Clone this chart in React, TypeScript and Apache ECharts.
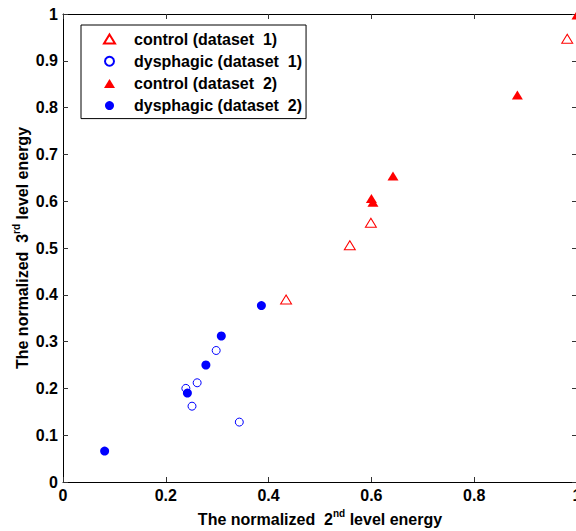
import React, { useEffect, useRef } from "react";
import * as echarts from "echarts";

const seriesNames = [
  "control (dataset\u00a0 1)",
  "dysphagic (dataset\u00a0 1)",
  "control (dataset\u00a0 2)",
  "dysphagic (dataset\u00a0 2)",
];

const control1X = [0.434, 0.558, 0.599, 0.981];
const control1Y = [0.39, 0.506, 0.554, 0.947];
const dysphagic1X = [0.239, 0.261, 0.251, 0.298, 0.343];
const dysphagic1Y = [0.2, 0.212, 0.162, 0.281, 0.128];
const control2X = [0.6, 0.603, 0.642, 0.884, 1.0];
const control2Y = [0.606, 0.598, 0.654, 0.827, 0.998];
const dysphagic2X = [0.081, 0.242, 0.278, 0.308, 0.386];
const dysphagic2Y = [0.066, 0.19, 0.25, 0.312, 0.377];

const xTitle = "The normalized\u00a0 2{sup|nd} level energy";
const yTitle = "The normalized\u00a0 3{sup|rd} level energy";

const FONT = "'Liberation Sans', Arial, Helvetica, sans-serif";

function pairs(xs: number[], ys: number[]) {
  return xs.map((x, i) => [x, ys[i]]);
}

export default function App() {
  const ref = useRef<HTMLDivElement>(null);
  useEffect(() => {
    if (!ref.current) return;
    const chart = echarts.init(ref.current, undefined, { renderer: "svg" });
    const titleStyle = {
      color: "#000",
      fontSize: 16,
      fontWeight: "bold",
      fontFamily: FONT,
      lineHeight: 22,
      rich: {
        sup: {
          fontSize: 10,
          fontWeight: "bold",
          fontFamily: FONT,
          color: "#000",
          verticalAlign: "top",
          lineHeight: 10,
        },
      },
    };
    const labelStyle = {
      color: "#000",
      fontSize: 16,
      fontWeight: "bold",
      fontFamily: FONT,
    };
    const axisLine = { show: true, onZero: false, lineStyle: { color: "#000", width: 1 } };
    const axisTick = { show: true, inside: true, length: 5, lineStyle: { color: "#333", width: 1 } };
    const option: any = {
      animation: false,
      backgroundColor: "#fff",
      grid: { left: 63, top: 14, right: -1, bottom: 49, outerBoundsMode: "none", containLabel: false },
      legend: {
        data: seriesNames,
        orient: "vertical",
        left: 81,
        top: 25,
        padding: [6, 4, 5, 22],
        itemWidth: 11,
        itemHeight: 9,
        itemGap: 6.2,
        backgroundColor: "#fff",
        borderColor: "#000",
        borderWidth: 1,
        borderRadius: 0,
        selectedMode: false,
        textStyle: {
          color: "#000",
          fontSize: 16,
          fontWeight: "bold",
          fontFamily: FONT,
          lineHeight: 16,
          padding: [0, 0, 0, 14],
        },
      },
      xAxis: [
        {
          type: "value",
          position: "bottom",
          min: 0,
          max: 1,
          interval: 0.2,
          axisLine,
          axisTick,
          splitLine: { show: false },
          axisLabel: { ...labelStyle, margin: 5 },
          name: xTitle,
          nameLocation: "middle",
          nameGap: 26,
          nameTextStyle: titleStyle,
        },
        {
          type: "value",
          position: "top",
          min: 0,
          max: 1,
          interval: 0.2,
          axisLine,
          axisTick,
          splitLine: { show: false },
          axisLabel: { show: false },
        },
      ],
      yAxis: [
        {
          type: "value",
          position: "left",
          min: 0,
          max: 1,
          interval: 0.1,
          axisLine,
          axisTick,
          splitLine: { show: false },
          axisLabel: { ...labelStyle, margin: 5 },
          name: yTitle,
          nameLocation: "middle",
          nameMoveOverlap: false,
          nameGap: 30,
          nameTextStyle: titleStyle,
        },
        {
          type: "value",
          position: "right",
          min: 0,
          max: 1,
          interval: 0.1,
          axisLine,
          axisTick,
          splitLine: { show: false },
          axisLabel: { show: false },
        },
      ],
      series: [
        {
          name: seriesNames[0],
          type: "scatter",
          symbol: "triangle",
          symbolSize: [11, 9],
          clip: false,
          itemStyle: { color: "#fff", borderColor: "#ff0000", borderWidth: 1, opacity: 1 },
          data: pairs(control1X, control1Y),
        },
        {
          name: seriesNames[1],
          type: "scatter",
          symbol: "circle",
          symbolSize: 8,
          clip: false,
          itemStyle: { color: "#fff", borderColor: "#0000ff", borderWidth: 1, opacity: 1 },
          data: pairs(dysphagic1X, dysphagic1Y),
        },
        {
          name: seriesNames[2],
          type: "scatter",
          symbol: "triangle",
          symbolSize: [11, 9],
          clip: false,
          itemStyle: { color: "#ff0000", opacity: 1 },
          data: pairs(control2X, control2Y),
        },
        {
          name: seriesNames[3],
          type: "scatter",
          symbol: "circle",
          symbolSize: 9,
          clip: false,
          itemStyle: { color: "#0000ff", opacity: 1 },
          data: pairs(dysphagic2X, dysphagic2Y),
        },
      ],
    };
    chart.setOption(option);
    return () => chart.dispose();
  }, []);
  return (
    <div
      ref={ref}
      style={{ position: "absolute", left: 0, top: 0, width: 576, height: 531, overflow: "hidden" }}
    />
  );
}
